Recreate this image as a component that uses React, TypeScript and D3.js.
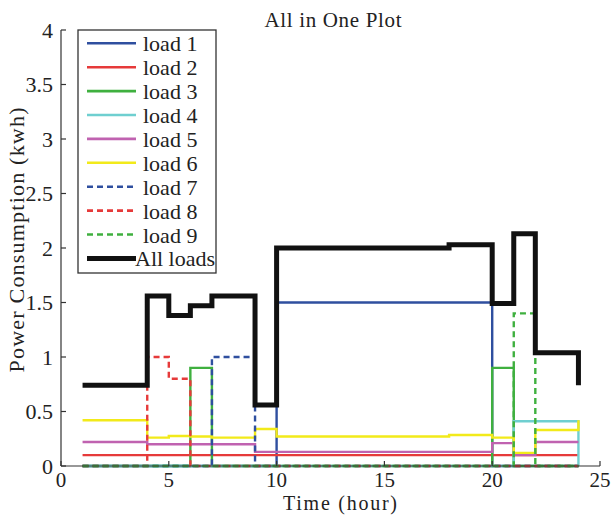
import React from "react";
import * as d3 from "d3";

const hours = [1, 2, 3, 4, 5, 6, 7, 8, 9, 10, 11, 12, 13, 14, 15, 16, 17, 18, 19, 20, 21, 22, 23, 24];
const load1 = [0, 0, 0, 0, 0, 0, 0, 0, 0, 1.5, 1.5, 1.5, 1.5, 1.5, 1.5, 1.5, 1.5, 1.5, 1.5, 0, 0, 0, 0, 0];
const load2 = [0.1, 0.1, 0.1, 0.1, 0.1, 0.1, 0.1, 0.1, 0.1, 0.1, 0.1, 0.1, 0.1, 0.1, 0.1, 0.1, 0.1, 0.1, 0.1, 0.1, 0.1, 0.1, 0.1, 0.1];
const load3 = [0, 0, 0, 0, 0, 0.9, 0, 0, 0, 0, 0, 0, 0, 0, 0, 0, 0, 0, 0, 0.9, 0, 0, 0, 0];
const load4 = [0, 0, 0, 0, 0, 0, 0, 0, 0, 0, 0, 0, 0, 0, 0, 0, 0, 0, 0, 0, 0.41, 0.41, 0.41, 0];
const load5 = [0.22, 0.22, 0.22, 0.2, 0.2, 0.2, 0.2, 0.2, 0.13, 0.13, 0.13, 0.13, 0.13, 0.13, 0.13, 0.13, 0.13, 0.13, 0.13, 0.21, 0.1, 0.22, 0.22, 0.22];
const load6 = [0.42, 0.42, 0.42, 0.26, 0.275, 0.27, 0.26, 0.26, 0.34, 0.27, 0.27, 0.27, 0.27, 0.27, 0.27, 0.27, 0.27, 0.285, 0.285, 0.26, 0.12, 0.33, 0.33, 0.42];
const load7 = [0, 0, 0, 0, 0, 0, 1.0, 1.0, 0, 0, 0, 0, 0, 0, 0, 0, 0, 0, 0, 0, 0, 0, 0, 0];
const load8 = [0, 0, 0, 1.0, 0.8, 0, 0, 0, 0, 0, 0, 0, 0, 0, 0, 0, 0, 0, 0, 0, 0, 0, 0, 0];
const load9 = [0, 0, 0, 0, 0, 0, 0, 0, 0, 0, 0, 0, 0, 0, 0, 0, 0, 0, 0, 0, 1.4, 0, 0, 0];
const allLoads = [0.74, 0.74, 0.74, 1.56, 1.38, 1.47, 1.56, 1.56, 0.56, 2.0, 2.0, 2.0, 2.0, 2.0, 2.0, 2.0, 2.0, 2.03, 2.03, 1.49, 2.13, 1.04, 1.04, 0.74];

const seriesNames = ["load 1", "load 2", "load 3", "load 4", "load 5", "load 6", "load 7", "load 8", "load 9", "All loads"];
const seriesValues = [load1, load2, load3, load4, load5, load6, load7, load8, load9, allLoads];
const seriesColors = ["#2f4f9f", "#e63a3a", "#3fb03f", "#6fcfd0", "#c062b0", "#f2ea1a", "#2f4f9f", "#e63a3a", "#3fb03f", "#111111"];
const seriesDashed = [false, false, false, false, false, false, true, true, true, false];

const xTicks = [0, 5, 10, 15, 20, 25];
const yTicks = [0, 0.5, 1, 1.5, 2, 2.5, 3, 3.5, 4];

const FONT = "Liberation Serif, Tinos, Times New Roman, Times, serif";

export default function App() {
  const x0 = 61, x1 = 600, yTop = 30, yBot = 466;
  const x = d3.scaleLinear().domain([0, 25]).range([x0, x1]);
  const y = d3.scaleLinear().domain([0, 4]).range([yBot, yTop]);
  const line = d3
    .line<number>()
    .x((_, i) => x(hours[i]))
    .y((d) => y(d))
    .curve(d3.curveStepAfter);

  const legX = 78, legY = 30, legW = 138, legH = 243;
  const rowY0 = 43.3, rowStep = 23.9;
  const textStyle = { fontFamily: FONT } as React.CSSProperties;

  return (
    <div style={{ position: "absolute", left: 0, top: 0 }}>
      <svg width={614} height={516} style={{ display: "block", background: "#fff" }}>
        {seriesValues.map((vals, k) => (
          <path
            key={k}
            d={line(vals) || ""}
            fill="none"
            stroke={seriesColors[k]}
            strokeWidth={k === 9 ? 5 : 2.4}
            strokeDasharray={seriesDashed[k] ? "6,4" : undefined}
          />
        ))}
        <line x1={x0} x2={x0} y1={yTop} y2={yBot} stroke="#333" strokeWidth={1.2} />
        <line x1={x0} x2={x1} y1={yBot} y2={yBot} stroke="#333" strokeWidth={1.2} />
        {yTicks.map((t) => (
          <g key={"y" + t}>
            <line x1={x0} x2={x0 + 5} y1={y(t)} y2={y(t)} stroke="#333" strokeWidth={1.2} />
            <text x={53} y={y(t) + 7.5} textAnchor="end" style={textStyle} fontSize={22} fill="#222">
              {t}
            </text>
          </g>
        ))}
        {xTicks.map((t) => (
          <g key={"x" + t}>
            <line x1={x(t)} x2={x(t)} y1={yBot} y2={yBot - 5} stroke="#333" strokeWidth={1.2} />
            <text x={x(t)} y={487} textAnchor="middle" style={textStyle} fontSize={21} fill="#222">
              {t}
            </text>
          </g>
        ))}
        <text x={333} y={27} textAnchor="middle" style={textStyle} fontSize={21} fill="#222" textLength={137} lengthAdjust="spacing">
          All in One Plot
        </text>
        <text x={340} y={510} textAnchor="middle" style={textStyle} fontSize={20} fill="#222" textLength={114} lengthAdjust="spacing">
          Time (hour)
        </text>
        <text
          transform={`translate(24,240) rotate(-90)`}
          textAnchor="middle"
          style={textStyle}
          fontSize={22}
          fill="#222"
          textLength={265}
          lengthAdjust="spacing"
        >
          Power Consumption (kwh)
        </text>
        <rect x={legX} y={legY} width={legW} height={legH} fill="#fff" stroke="#333" strokeWidth={1.3} />
        {seriesNames.map((name, k) => {
          const ry = rowY0 + k * rowStep;
          return (
            <g key={name}>
              <line
                x1={87}
                x2={136}
                y1={ry}
                y2={ry}
                stroke={seriesColors[k]}
                strokeWidth={k === 9 ? 5 : 2.6}
                strokeDasharray={seriesDashed[k] ? "6,4" : undefined}
              />
              <text x={k === 9 ? 135 : 143} y={ry + 8} style={textStyle} fontSize={22} fill="#222">
                {name}
              </text>
            </g>
          );
        })}
      </svg>
    </div>
  );
}
